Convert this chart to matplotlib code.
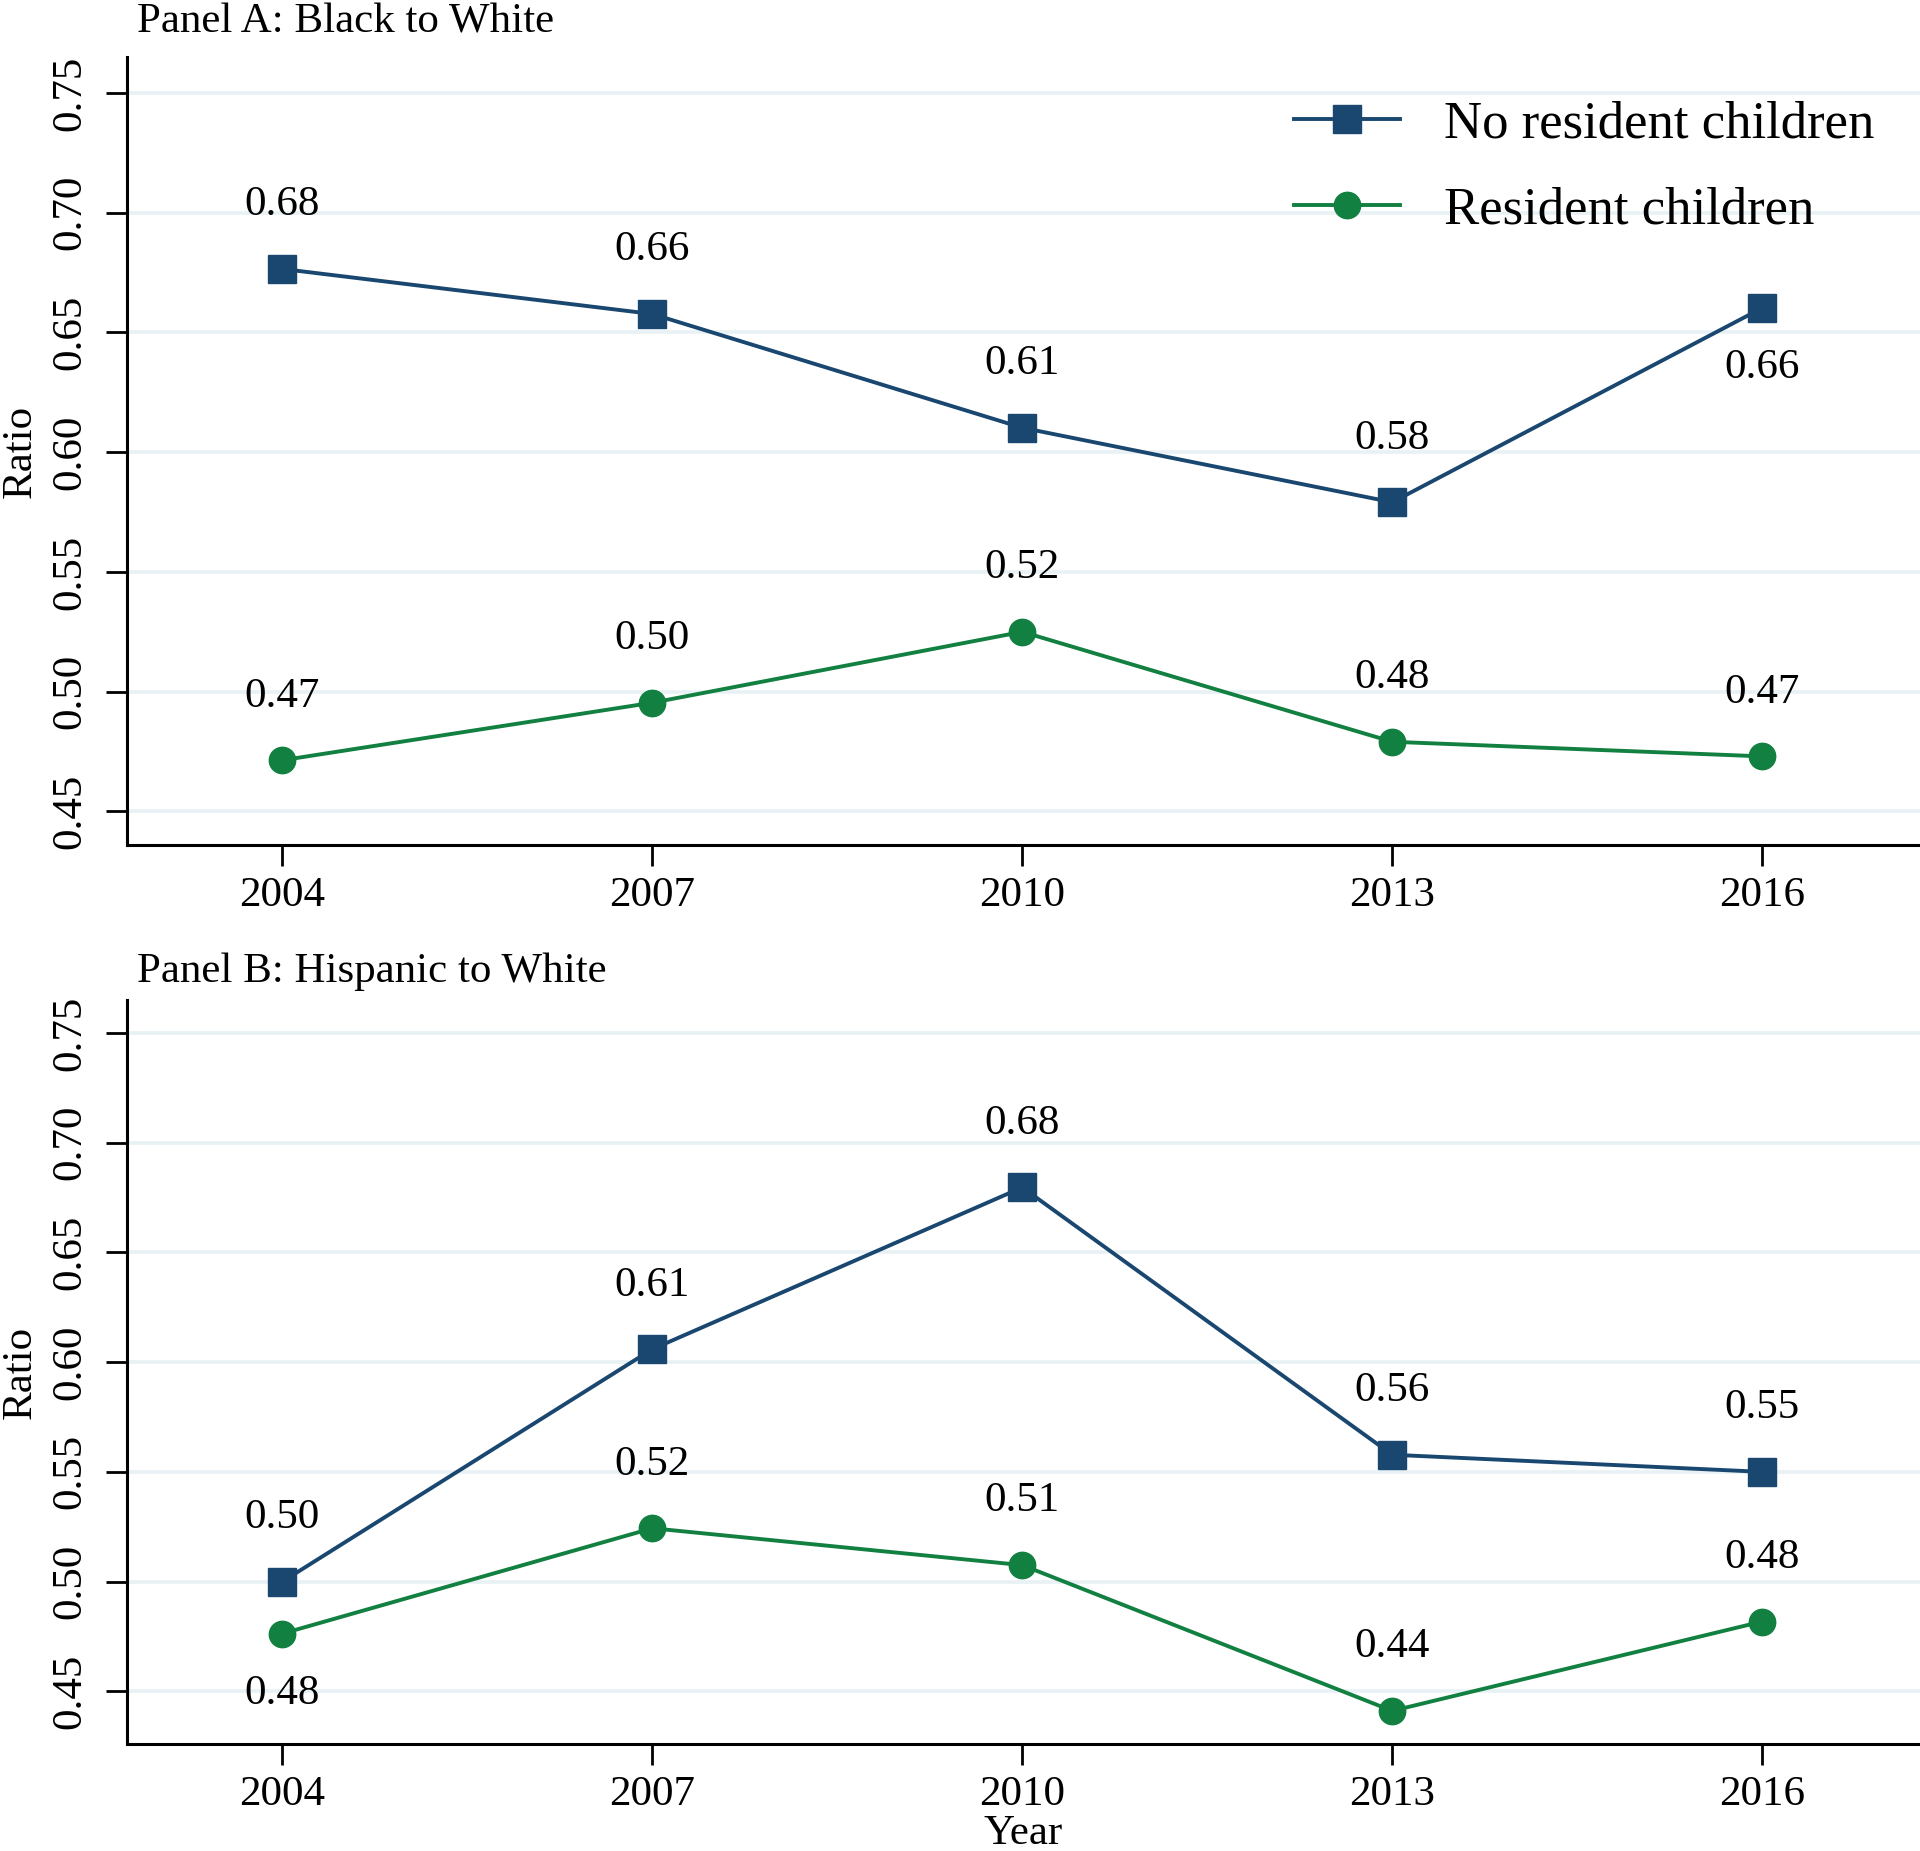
import matplotlib
matplotlib.use("Agg")
import matplotlib.pyplot as plt

plt.rcParams['font.family'] = ['Liberation Serif', 'DejaVu Serif']

years = [2004, 2007, 2010, 2013, 2016]
year_labels = ["2004", "2007", "2010", "2013", "2016"]
yticks = [0.45, 0.50, 0.55, 0.60, 0.65, 0.70, 0.75]

a_no_res = [0.6765, 0.6577, 0.6102, 0.5791, 0.6602]
a_res = [0.4714, 0.4954, 0.5250, 0.4791, 0.4730]
a_no_res_lbl = ["0.68", "0.66", "0.61", "0.58", "0.66"]
a_res_lbl = ["0.47", "0.50", "0.52", "0.48", "0.47"]
a_no_res_pos = ["above", "above", "above", "above", "below"]
a_res_pos = ["above", "above", "above", "above", "above"]

b_no_res = [0.5000, 0.6059, 0.6796, 0.5578, 0.5500]
b_res = [0.4763, 0.5243, 0.5075, 0.4411, 0.4818]
b_no_res_lbl = ["0.50", "0.61", "0.68", "0.56", "0.55"]
b_res_lbl = ["0.48", "0.52", "0.51", "0.44", "0.48"]
b_no_res_pos = ["above", "above", "above", "above", "above"]
b_res_pos = ["below", "above", "above", "above", "above"]

series_names = ["No resident children", "Resident children"]
panel_titles = ["Panel A: Black to White", "Panel B: Hispanic to White"]

NAVY = "#1A476F"
GREEN = "#128040"
GRID = "#E8F1F4"

W, H = 1920, 1851
fig = plt.figure(figsize=(W / 100, H / 100), dpi=100)

def fx(px):
    return px / W

def fy(py):
    return 1 - py / H

axA = fig.add_axes([fx(127), fy(845), 1 - fx(127), fy(57) - fy(845)])
axB = fig.add_axes([fx(127), fy(1744), 1 - fx(127), fy(1000) - fy(1744)])

FS = 31

def draw(ax, no_res, res, no_lbl, res_lbl, no_pos, res_pos, ylim, off_pts):
    ax.set_xlim(2002.74, 2017.28)
    ax.set_ylim(*ylim)
    for yv in yticks:
        ax.axhline(yv, color=GRID, lw=2.6, zorder=0)
    ax.plot(years, no_res, color=NAVY, lw=2.8, marker="s", markersize=20,
            label=series_names[0], zorder=3)
    ax.plot(years, res, color=GREEN, lw=2.8, marker="o", markersize=19,
            label=series_names[1], zorder=3)
    for vals, lbls, poss in ((no_res, no_lbl, no_pos), (res, res_lbl, res_pos)):
        for x, v, l, p in zip(years, vals, lbls, poss):
            if p == "above":
                ax.annotate(l, (x, v), xytext=(0, off_pts), textcoords="offset points",
                            ha="center", va="center", fontsize=FS)
            else:
                ax.annotate(l, (x, v), xytext=(0, -off_pts + 3), textcoords="offset points",
                            ha="center", va="center", fontsize=FS)
    ax.set_xticks(years)
    ax.set_xticklabels(year_labels)
    ax.set_yticks(yticks)
    ax.set_yticklabels([f"{t:.2f}" for t in yticks], rotation=90, va="center")
    ax.tick_params(axis="both", labelsize=FS, length=15, width=2.0, pad=8, color="black")
    ax.tick_params(axis="y", pad=12)
    ax.spines["top"].set_visible(False)
    ax.spines["right"].set_visible(False)
    for s in ("left", "bottom"):
        ax.spines[s].set_linewidth(2.2)
    ax.set_ylabel("Ratio", fontsize=FS, labelpad=8)

draw(axA, a_no_res, a_res, a_no_res_lbl, a_res_lbl, a_no_res_pos, a_res_pos, (0.436, 0.765), 46)
draw(axB, b_no_res, b_res, b_no_res_lbl, b_res_lbl, b_no_res_pos, b_res_pos, (0.426, 0.765), 46)

axB.set_xlabel("Year", fontsize=FS, labelpad=0)

fig.text(fx(137), fy(22), panel_titles[0], fontsize=FS, ha="left", va="center")
fig.text(fx(137), fy(972), panel_titles[1], fontsize=FS, ha="left", va="center")

leg = axA.legend(loc="upper left", bbox_to_anchor=(fx(1294), fy(100)),
                 bbox_transform=fig.transFigure, frameon=False, fontsize=38,
                 handlelength=2.0, handletextpad=0.85, labelspacing=0.72,
                 borderpad=0, borderaxespad=0)

fig.savefig("out.png", dpi=100)
